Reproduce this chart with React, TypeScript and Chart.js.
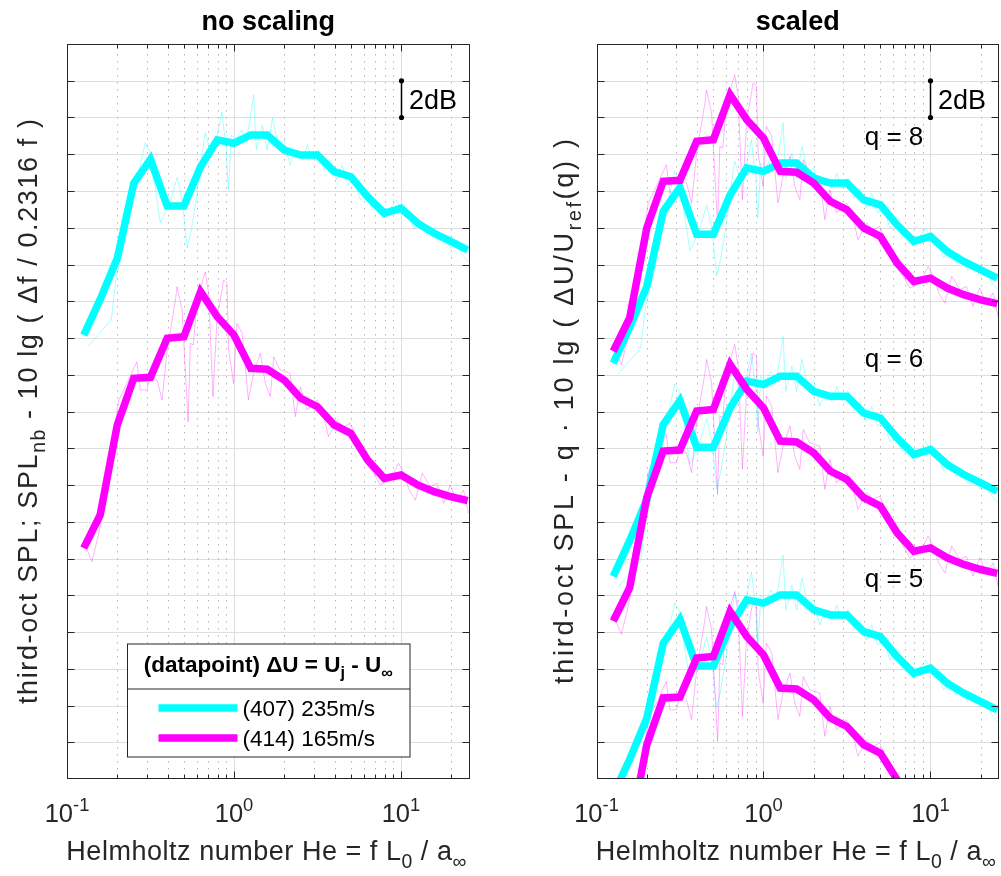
import React, { useEffect, useRef } from "react";
import { Chart, registerables } from "chart.js";
Chart.register(...registerables);

const FONT = '"Liberation Sans", Arial, Helvetica, sans-serif';

// ---------- data ----------
// third-octave band centre Helmholtz numbers
const bandHe = [0.126, 0.158, 0.2, 0.251, 0.316, 0.398, 0.501, 0.631, 0.794, 1, 1.26, 1.58, 2, 2.51, 3.16, 3.98, 5.01, 6.31, 7.94, 10, 12.6, 15.8, 20, 25.1];
// third-octave SPL (dB, arbitrary reference) datapoint 407 (235 m/s)
const oct407 = [24.16, 26.1, 28.34, 32.42, 33.72, 31.18, 31.18, 33.32, 34.78, 34.6, 35.05, 35.05, 34.23, 33.96, 33.96, 33.05, 32.78, 31.69, 30.79, 31.06, 30.24, 29.7, 29.24, 28.79];
// third-octave SPL datapoint 414 (165 m/s)
const oct414 = [12.56, 14.37, 19.27, 21.81, 21.86, 23.98, 24.07, 26.52, 25.16, 24.16, 22.35, 22.3, 21.71, 20.72, 20.26, 19.27, 18.81, 17.36, 16.36, 16.54, 16.0, 15.64, 15.36, 15.15];

// narrowband spectra (normalised), datapoint 407
const nb407He = [0.134, 0.184, 0.197, 0.223, 0.249, 0.275, 0.294, 0.311, 0.333, 0.362, 0.383, 0.416, 0.457, 0.49, 0.525, 0.555, 0.594, 0.637, 0.673, 0.721, 0.762, 0.847, 0.899, 0.925, 0.964, 1.03, 1.11, 1.19, 1.25, 1.31, 1.36, 1.48, 1.58, 1.7, 1.84, 2.0, 2.17, 2.36, 2.57, 2.75, 2.94, 3.2, 3.47, 3.77, 4.1, 4.45, 4.84, 5.25, 5.7, 6.2, 6.73, 7.31, 7.94, 8.63, 9.38, 10.2, 11.1, 12.0, 13.1, 14.2, 15.4, 16.7, 18.2, 19.8, 21.5, 23.3, 25.4];
const nb407dB = [23.56, 24.98, 27.32, 29.33, 32.05, 33.41, 34.61, 34.23, 32.6, 30.26, 30.69, 31.5, 32.76, 31.5, 28.9, 29.88, 31.5, 33.69, 35.16, 34.23, 34.23, 36.3, 34.23, 32.05, 35.05, 34.78, 35.32, 34.78, 35.97, 37.22, 34.23, 35.59, 34.23, 35.97, 34.5, 34.78, 33.41, 34.23, 33.69, 34.5, 33.69, 34.23, 33.14, 33.69, 32.6, 33.41, 32.33, 32.7, 31.5, 32.05, 30.97, 31.25, 30.53, 31.07, 31.5, 30.86, 30.69, 29.88, 30.42, 29.61, 29.88, 29.22, 29.55, 28.9, 29.22, 28.52, 28.14];
// narrowband spectra (normalised), datapoint 414
const nb414He = [0.132, 0.141, 0.155, 0.162, 0.182, 0.204, 0.226, 0.262, 0.275, 0.301, 0.315, 0.346, 0.371, 0.398, 0.446, 0.456, 0.489, 0.531, 0.548, 0.571, 0.6, 0.673, 0.705, 0.748, 0.791, 0.867, 0.908, 0.929, 0.995, 1.04, 1.12, 1.22, 1.31, 1.44, 1.54, 1.65, 1.73, 1.89, 2.17, 2.33, 2.5, 2.74, 3.14, 3.38, 3.68, 4.14, 4.53, 4.97, 5.45, 5.97, 6.85, 7.52, 8.63, 9.68, 10.4, 11.2, 12.2, 13.4, 15.0, 16.4, 18.0, 19.7, 21.6, 23.7, 25.4];
const nb414dB = [12.46, 11.83, 13.37, 14.27, 17.36, 20.63, 21.44, 22.71, 21.17, 21.17, 21.89, 21.71, 20.63, 23.35, 26.07, 26.79, 25.52, 19.44, 23.71, 23.62, 26.07, 27.61, 26.43, 20.81, 24.98, 27.16, 26.98, 23.35, 21.53, 24.8, 24.26, 20.63, 22.08, 23.17, 21.53, 20.81, 22.98, 22.26, 22.08, 19.72, 21.35, 20.08, 20.63, 20.08, 18.63, 19.54, 19.17, 19.36, 18.45, 17.36, 16.64, 16.0, 16.27, 17.18, 16.64, 15.73, 15.18, 16.64, 15.91, 16.09, 15.0, 16.0, 15.18, 15.73, 14.46];

// scaled panel: exponent q and resulting vertical shift (dB) of each datapoint
const qValues = [8, 6, 5];
const shift407 = [-1.53, -13.13, -25.03];
const shift414 = [10.72, -3.96, -17.4];

const seriesNames = ["(407) 235m/s", "(414) 165m/s"];
const seriesColors = ["#00FFFF", "#FF00FF"];
const thinColors = ["rgba(0,255,255,0.34)", "rgba(255,0,255,0.3)"];

// axes
const xMin = 0.1;
const xMax = 25.76;
const yMin = 0;
const yMax = 40;
const yStep = 2;
const xMajor = [0.1, 1, 10];
const xMinor = [0.2, 0.3, 0.4, 0.5, 0.6, 0.7, 0.8, 0.9, 2, 3, 4, 5, 6, 7, 8, 9, 20];
const xTickBase = "10";
const xTickExp = ["-1", "0", "1"];
const scaleBar = { he: 10, from: 36, to: 38, text: "2dB" };
const qLabelPos = { he: 4.04, db: [34.5, 22.44, 10.43] };

// ---------- drawing helpers ----------
type Seg = [string, number?]; // 0 normal, 1 subscript, 2 superscript

function segFont(size: number, bold: boolean, kind?: number) {
  const s = kind ? size * 0.72 : size;
  return `${bold ? "bold " : ""}${s}px ${FONT}`;
}
function richWidth(ctx: CanvasRenderingContext2D, segs: Seg[], size: number, bold: boolean) {
  let w = 0;
  for (const [t, k] of segs) {
    ctx.font = segFont(size, bold, k);
    w += ctx.measureText(t).width;
  }
  return w;
}
// draws text with sub/superscripts; if target is given, widens the run with
// extra per-character spacing so its total length equals target
function drawRich(
  ctx: CanvasRenderingContext2D,
  segs: Seg[],
  x: number,
  y: number,
  size: number,
  bold: boolean,
  align: "left" | "center",
  color: string,
  target?: number
) {
  const w0 = richWidth(ctx, segs, size, bold);
  let nChars = 0;
  for (const [t] of segs) nChars += t.length;
  const extra = target ? (target - w0) / Math.max(1, nChars - 1) : 0;
  const w = target ? target : w0;
  let cx = align === "center" ? x - w / 2 : x;
  ctx.fillStyle = color;
  ctx.textAlign = "left";
  ctx.textBaseline = "alphabetic";
  for (const [t, k] of segs) {
    ctx.font = segFont(size, bold, k);
    const dy = k === 1 ? size * 0.3 : k === 2 ? -size * 0.42 : 0;
    if (!target) {
      ctx.fillText(t, cx, y + dy);
      cx += ctx.measureText(t).width;
    } else {
      for (const ch of t) {
        ctx.fillText(ch, cx, y + dy);
        cx += ctx.measureText(ch).width + extra;
      }
    }
  }
}

interface PanelCfg {
  title: string;
  yLabel: Seg[];
  yLabelGap: number;
  yLabelLen: number;
  showLegend: boolean;
  showQ: boolean;
}

const AX = "#262626";

function makeDecor(cfg: PanelCfg) {
  return {
    id: "decor",
    beforeDatasetsDraw(chart: any) {
      const { ctx, chartArea: a, scales } = chart;
      const x = scales.x;
      const y = scales.y;
      ctx.save();
      ctx.lineWidth = 1;
      ctx.strokeStyle = "#dedede";
      for (let v = yMin + yStep; v < yMax; v += yStep) {
        const py = Math.round(y.getPixelForValue(v)) + 0.5;
        ctx.beginPath();
        ctx.moveTo(a.left, py);
        ctx.lineTo(a.right, py);
        ctx.stroke();
      }
      for (const v of xMajor) {
        const px = Math.round(x.getPixelForValue(v)) + 0.5;
        ctx.beginPath();
        ctx.moveTo(px, a.top);
        ctx.lineTo(px, a.bottom);
        ctx.stroke();
      }
      ctx.strokeStyle = "#b4b4b4";
      ctx.setLineDash([1.5, 5.5]);
      for (const v of xMinor) {
        const px = Math.round(x.getPixelForValue(v)) + 0.5;
        ctx.beginPath();
        ctx.moveTo(px, a.top + 3);
        ctx.lineTo(px, a.bottom);
        ctx.stroke();
      }
      ctx.restore();
    },
    afterDatasetsDraw(chart: any) {
      const { ctx, chartArea: a, scales } = chart;
      const x = scales.x;
      const y = scales.y;
      ctx.save();
      // frame
      ctx.strokeStyle = AX;
      ctx.lineWidth = 1;
      const L = Math.round(a.left) + 0.5;
      const R = Math.round(a.right) - 0.5;
      const T = Math.round(a.top) + 0.5;
      const B = Math.round(a.bottom) - 0.5;
      ctx.strokeRect(L, T, R - L, B - T);
      // y ticks (inward, both sides)
      ctx.beginPath();
      for (let v = yMin + yStep; v < yMax; v += yStep) {
        const py = Math.round(y.getPixelForValue(v)) + 0.5;
        ctx.moveTo(L, py);
        ctx.lineTo(L + 7, py);
        ctx.moveTo(R, py);
        ctx.lineTo(R - 7, py);
      }
      // x ticks
      for (const v of xMajor) {
        const px = Math.round(x.getPixelForValue(v)) + 0.5;
        ctx.moveTo(px, B);
        ctx.lineTo(px, B - 7);
        ctx.moveTo(px, T);
        ctx.lineTo(px, T + 7);
      }
      for (const v of xMinor) {
        const px = Math.round(x.getPixelForValue(v)) + 0.5;
        ctx.moveTo(px, B);
        ctx.lineTo(px, B - 4);
        ctx.moveTo(px, T);
        ctx.lineTo(px, T + 4);
      }
      ctx.stroke();

      // tick labels
      xMajor.forEach((v, i) => {
        drawRich(ctx, [[xTickBase], [xTickExp[i], 2]], x.getPixelForValue(v), a.bottom + 42.7, 25.5, false, "center", AX);
      });
      // x label
      const cxm = (a.left + a.right) / 2;
      drawRich(
        ctx,
        [["Helmholtz number He = f L"], ["0", 1], [" / a"], ["\u221E", 1]],
        cxm - 2,
        a.bottom + 81,
        27,
        false,
        "center",
        AX,
        400
      );
      // title
      ctx.font = `bold 27px ${FONT}`;
      ctx.fillStyle = "#000";
      ctx.textAlign = "center";
      ctx.fillText(cfg.title, cxm, a.top - 14);
      // y label
      ctx.save();
      ctx.translate(a.left - cfg.yLabelGap, (a.top + a.bottom) / 2);
      ctx.rotate(-Math.PI / 2);
      drawRich(ctx, cfg.yLabel, 0, 0, 27, false, "center", AX, cfg.yLabelLen);
      ctx.restore();

      // 2dB scale bar
      const sx = Math.round(x.getPixelForValue(scaleBar.he)) + 0.5;
      const sy1 = y.getPixelForValue(scaleBar.to);
      const sy2 = y.getPixelForValue(scaleBar.from);
      ctx.strokeStyle = "#000";
      ctx.lineWidth = 1.5;
      ctx.beginPath();
      ctx.moveTo(sx, sy1);
      ctx.lineTo(sx, sy2);
      ctx.stroke();
      ctx.fillStyle = "#000";
      for (const sy of [sy1, sy2]) {
        ctx.beginPath();
        ctx.arc(sx, sy, 2.6, 0, Math.PI * 2);
        ctx.fill();
      }
      ctx.font = `27px ${FONT}`;
      ctx.textAlign = "left";
      ctx.fillText(scaleBar.text, sx + 7.5, (sy1 + sy2) / 2 + 10);

      if (cfg.showQ) {
        ctx.font = `26px ${FONT}`;
        ctx.fillStyle = "#000";
        ctx.textAlign = "left";
        qValues.forEach((q, i) => {
          ctx.fillText(`q = ${q}`, x.getPixelForValue(qLabelPos.he), y.getPixelForValue(qLabelPos.db[i]));
        });
      }

      if (cfg.showLegend) {
        const lx = 127, ly = 643.5, lw = 282.5, lh = 113;
        ctx.fillStyle = "#fff";
        ctx.fillRect(lx, ly, lw, lh);
        ctx.strokeStyle = AX;
        ctx.lineWidth = 1;
        ctx.strokeRect(lx + 0.5, ly + 0.5, lw, lh);
        ctx.beginPath();
        ctx.moveTo(lx + 0.5, ly + 45.5);
        ctx.lineTo(lx + lw + 0.5, ly + 45.5);
        ctx.stroke();
        drawRich(
          ctx,
          [["(datapoint) \u0394U = U"], ["j", 1], [" - U"], ["\u221E", 1]],
          lx + lw / 2,
          ly + 28,
          22.5,
          true,
          "center",
          "#000"
        );
        seriesNames.forEach((name, i) => {
          const yy = ly + 64.5 + i * 30;
          ctx.strokeStyle = seriesColors[i];
          ctx.lineWidth = 7.5;
          ctx.beginPath();
          ctx.moveTo(158.5, yy);
          ctx.lineTo(237.5, yy);
          ctx.stroke();
          ctx.font = `22.5px ${FONT}`;
          ctx.fillStyle = "#000";
          ctx.textAlign = "left";
          ctx.fillText(name, 242.5, yy + 8);
        });
      }
      ctx.restore();
    },
  };
}

const pts = (xs: number[], ys: number[], dy = 0) => xs.map((v, i) => ({ x: v, y: ys[i] + dy }));

function thick(data: any[], color: string, order: number) {
  return {
    data,
    borderColor: color,
    borderWidth: 7.5,
    borderJoinStyle: "miter" as const,
    borderCapStyle: "butt" as const,
    pointRadius: 0,
    tension: 0,
    order,
  };
}
function thin(data: any[], color: string, order: number) {
  return { data, borderColor: color, borderWidth: 1, pointRadius: 0, tension: 0, order };
}

function buildLeft() {
  return [
    thick(pts(bandHe, oct414), seriesColors[1], 0),
    thick(pts(bandHe, oct407), seriesColors[0], 1),
    thin(pts(nb414He, nb414dB), thinColors[1], 2),
    thin(pts(nb407He, nb407dB), thinColors[0], 3),
  ];
}
function buildRight() {
  const ds: any[] = [];
  qValues.forEach((_, i) => {
    ds.push(thick(pts(bandHe, oct414, shift414[i]), seriesColors[1], 0));
    ds.push(thick(pts(bandHe, oct407, shift407[i]), seriesColors[0], 1));
    ds.push(thin(pts(nb414He, nb414dB, shift414[i]), thinColors[1], 2));
    ds.push(thin(pts(nb407He, nb407dB, shift407[i]), thinColors[0], 3));
  });
  return ds;
}

function Panel(props: {
  left: number;
  width: number;
  padding: { left: number; right: number; top: number; bottom: number };
  cfg: PanelCfg;
  datasets: () => any[];
}) {
  const ref = useRef<HTMLCanvasElement>(null);
  useEffect(() => {
    if (!ref.current) return;
    const chart = new Chart(ref.current, {
      type: "line",
      data: { datasets: props.datasets() },
      options: {
        responsive: false,
        animation: false,
        events: [],
        devicePixelRatio: 1,
        layout: { padding: props.padding },
        scales: {
          x: { type: "logarithmic", min: xMin, max: xMax, display: false },
          y: { type: "linear", min: yMin, max: yMax, display: false },
        },
        plugins: { legend: { display: false }, tooltip: { enabled: false } },
      },
      plugins: [makeDecor(props.cfg)],
    } as any);
    return () => chart.destroy();
  }, []);
  return (
    <canvas
      ref={ref}
      width={props.width}
      height={876}
      style={{ position: "absolute", left: props.left, top: 0, width: props.width, height: 876, display: "block" }}
    />
  );
}

export default function App() {
  return (
    <div style={{ position: "absolute", left: 0, top: 0, width: 1001, height: 876, background: "#fff" }}>
      <Panel
        left={0}
        width={530}
        padding={{ left: 67, right: 530 - 469.6, top: 44, bottom: 876 - 779 }}
        datasets={buildLeft}
        cfg={{
          title: "no scaling",
          yLabel: [["third-oct SPL; SPL"], ["nb", 1], [" - 10 lg ( \u0394f / 0.2316 f )"]],
          yLabelGap: 30,
          yLabelLen: 585,
          showLegend: true,
          showQ: false,
        }}
      />
      <Panel
        left={530}
        width={471}
        padding={{ left: 66.5, right: 471 - 469.1, top: 44, bottom: 876 - 779 }}
        datasets={buildRight}
        cfg={{
          title: "scaled",
          yLabel: [["third-oct SPL - q \u00B7 10 lg ( \u0394U/U"], ["ref", 1], ["(q) )"]],
          yLabelGap: 23.5,
          yLabelLen: 545,
          showLegend: false,
          showQ: true,
        }}
      />
    </div>
  );
}
